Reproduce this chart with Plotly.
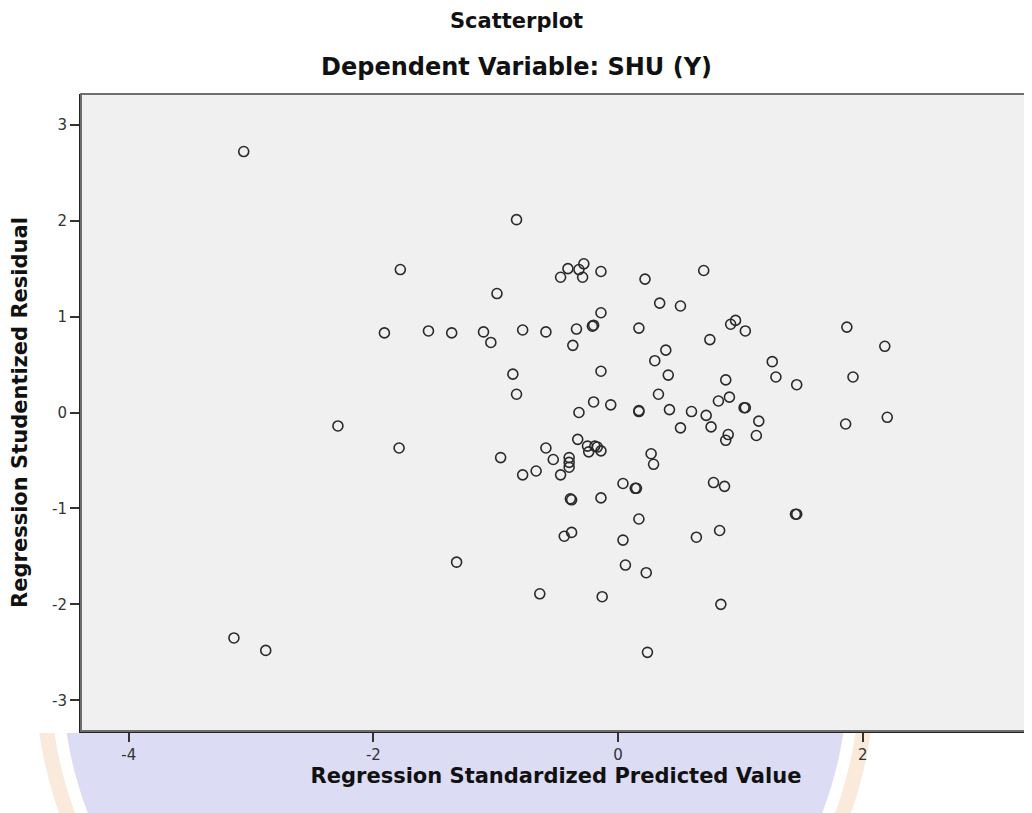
import plotly.graph_objects as go

# Regression Standardized Predicted Value (x) and Regression Studentized Residual (y)
pred = [-3.06, -0.83, -1.78, -0.99, -1.91, -1.55, -1.36, -1.10, -1.04, -0.78,
        -0.59, -0.34, -0.37, -0.21, -0.20, -0.14, 0.17, -0.47, -0.41, -0.32,
        -0.28, -0.29, -0.14, 0.22, -0.86, -0.83, -0.14, -2.29, -0.32, -0.20,
        -0.06, 0.17, 0.17, 0.70, 0.34, 0.51, 0.92, 0.96, 1.04, 0.75,
        1.87, 2.18, 0.39, 0.30, 0.41, 1.26, 1.29, 1.46, 1.92, 0.88,
        0.91, 0.82, 0.33, 0.42, 0.60, 0.72, 0.51, 0.76, 1.03, 1.04,
        1.15, 1.13, 0.90, 0.88, 1.86, 2.20, -1.79, -0.96, -0.78, -0.67,
        -0.59, -0.53, -0.47, -0.40, -0.40, -0.40, -0.33, -0.25, -0.19, -0.17,
        -0.24, -0.14, -0.38, -0.39, -0.14, 0.04, 0.14, 0.15, 0.17, -0.38,
        -0.44, 0.04, 0.06, 0.23, -1.32, -0.64, -0.13, 0.24, 0.27, 0.29,
        0.78, 0.87, 1.45, 1.46, 0.64, 0.83, 0.84, -3.14, -2.88]
resid = [2.72, 2.01, 1.49, 1.24, 0.83, 0.85, 0.83, 0.84, 0.73, 0.86,
         0.84, 0.87, 0.70, 0.90, 0.91, 1.04, 0.88, 1.41, 1.50, 1.49,
         1.55, 1.41, 1.47, 1.39, 0.40, 0.19, 0.43, -0.14, 0.00, 0.11,
         0.08, 0.02, 0.01, 1.48, 1.14, 1.11, 0.92, 0.96, 0.85, 0.76,
         0.89, 0.69, 0.65, 0.54, 0.39, 0.53, 0.37, 0.29, 0.37, 0.34,
         0.16, 0.12, 0.19, 0.03, 0.01, -0.03, -0.16, -0.15, 0.05, 0.05,
         -0.09, -0.24, -0.23, -0.29, -0.12, -0.05, -0.37, -0.47, -0.65, -0.61,
         -0.37, -0.49, -0.65, -0.47, -0.52, -0.57, -0.28, -0.35, -0.35, -0.36,
         -0.41, -0.40, -0.91, -0.90, -0.89, -0.74, -0.79, -0.79, -1.11, -1.25,
         -1.29, -1.33, -1.59, -1.67, -1.56, -1.89, -1.92, -2.50, -0.43, -0.54,
         -0.73, -0.77, -1.06, -1.06, -1.30, -1.23, -2.00, -2.35, -2.48]

x_ticks = [-4, -2, 0, 2]
y_ticks = [-3, -2, -1, 0, 1, 2, 3]

OFF = 8                      # page body margin of the html page
W, H = 1032 - OFF, 813 - OFF
L, R, T, B = 81 - OFF, 1, 94 - OFF, 82
PW, PH = W - L - R, H - T - B

def px_x(p):                 # page pixel -> paper x
    return (p - OFF - L) / PW

def px_y(p):                 # page pixel -> paper y
    return (H - B - (p - OFF)) / PH

fig = go.Figure()
fig.add_trace(go.Scatter(
    x=pred, y=resid, mode="markers",
    marker=dict(symbol="circle-open", size=10, color="#2a2a2a",
                line=dict(width=1.6, color="#2a2a2a")),
    hoverinfo="x+y", showlegend=False,
))

# faint watermark behind the page, visible only below the plot
cx, cy = 455, 673
for r, col in [(420, "#faeadb"), (405, "#ffffff"), (393, "#dcdcf5")]:
    fig.add_shape(type="circle", xref="paper", yref="paper", layer="below",
                  x0=px_x(cx - r), x1=px_x(cx + r), y0=px_y(cy + r), y1=px_y(cy - r),
                  line=dict(width=0), fillcolor=col)
fig.add_shape(type="rect", xref="paper", yref="paper", layer="below",
              x0=px_x(0), x1=px_x(1040), y0=px_y(733), y1=px_y(0),
              line=dict(width=0), fillcolor="#ffffff")
# opaque plot background
fig.add_shape(type="rect", xref="paper", yref="paper", layer="below",
              x0=0, x1=1, y0=0, y1=1, line=dict(width=0), fillcolor="#f0f0f0")
# plot frame (top / right in gray)
fig.add_shape(type="rect", xref="paper", yref="paper", x0=0, x1=1, y0=0, y1=1,
              line=dict(color="#6e6e6e", width=2), layer="above")

tick_font = "DejaVu Sans, Arial, sans-serif"
title_font = "DejaVu Sans, Arial, sans-serif"

fig.update_layout(
    width=W, height=H,
    margin=dict(l=L, r=R, t=T, b=B),
    paper_bgcolor="rgba(255,255,255,0)",
    plot_bgcolor="rgba(0,0,0,0)",
    font=dict(family=tick_font, color="#222222"),
    annotations=[
        dict(text="<b>Scatterplot</b>", xref="paper", yref="paper",
             x=px_x(516), y=px_y(21), xanchor="center", yanchor="middle",
             showarrow=False, font=dict(size=21, color="#111111", family=title_font)),
        dict(text="<b>Dependent Variable: SHU (Y)</b>", xref="paper", yref="paper",
             x=px_x(516), y=px_y(67), xanchor="center", yanchor="middle",
             showarrow=False, font=dict(size=24, color="#111111", family=title_font)),
    ],
    xaxis=dict(
        range=[-4.39, 3.375], tickvals=x_ticks, ticktext=[str(v) for v in x_ticks],
        showgrid=False, zeroline=False, showline=True, linecolor="#222222", linewidth=2,
        ticks="outside", ticklen=9, tickwidth=1.5, tickcolor="#333333",
        tickfont=dict(size=15, color="#333333"),
        title=dict(text="<b>Regression Standardized Predicted Value</b>",
                   font=dict(size=21, color="#111111", family=title_font), standoff=1),
    ),
    yaxis=dict(
        range=[-3.32, 3.32], tickvals=y_ticks, ticktext=[str(v) for v in y_ticks],
        showgrid=False, zeroline=False, showline=True, linecolor="#222222", linewidth=2,
        ticks="outside", ticklen=9, tickwidth=1.5, tickcolor="#333333",
        tickfont=dict(size=15, color="#333333"),
        title=dict(text="<b>Regression Studentized Residual</b>",
                   font=dict(size=21, color="#111111", family=title_font), standoff=20),
    ),
)

fig.write_html("out.html")
